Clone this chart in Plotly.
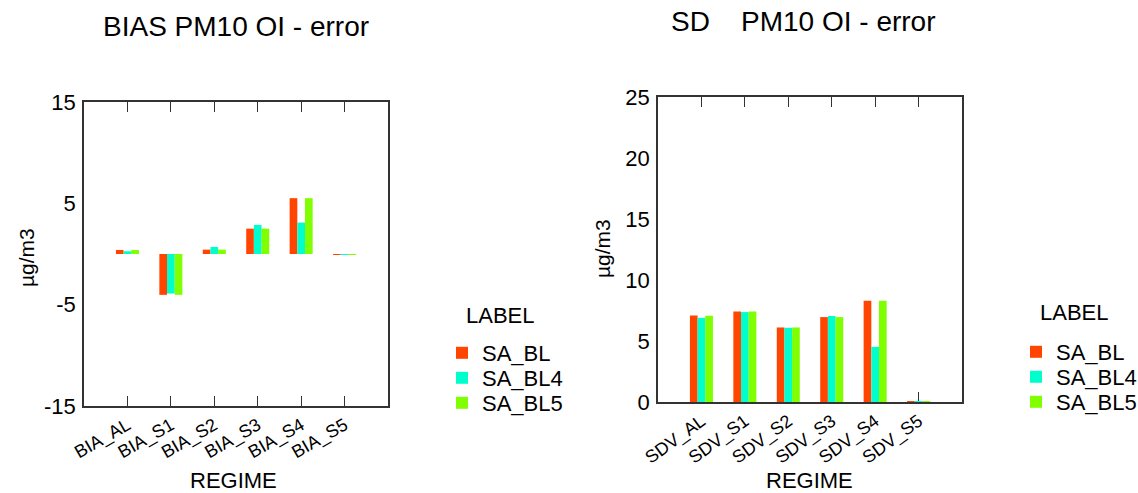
import plotly.graph_objects as go

W, H = 1138, 493

bias_categories = ["BIA_AL", "BIA_S1", "BIA_S2", "BIA_S3", "BIA_S4", "BIA_S5"]
sd_categories = ["SDV_AL", "SDV_S1", "SDV_S2", "SDV_S3", "SDV_S4", "SDV_S5"]
series_names = ["SA_BL", "SA_BL4", "SA_BL5"]
series_colors = ["#FF4500", "#00FFCC", "#7FFF00"]

bias_sa_bl = [0.40, -4.03, 0.43, 2.50, 5.51, -0.06]
bias_sa_bl4 = [0.27, -3.90, 0.69, 2.87, 3.10, -0.09]
bias_sa_bl5 = [0.40, -4.03, 0.43, 2.50, 5.51, -0.09]

sd_sa_bl = [7.10, 7.42, 6.11, 6.96, 8.30, 0.04]
sd_sa_bl4 = [6.90, 7.37, 6.08, 7.04, 4.52, 0.04]
sd_sa_bl5 = [7.07, 7.42, 6.11, 6.96, 8.30, 0.04]

bias_tickvals = [-15, -5, 5, 15]
bias_ticktext = ["-15", "-5", "5", "15"]
sd_tickvals = [0, 5, 10, 15, 20, 25]
sd_ticktext = ["0", "5", "10", "15", "20", "25"]

FONT = "Arial, Liberation Sans, sans-serif"
LINE = "#333333"


def px_x(p):
    return p / W


def px_y(p):
    return 1 - p / H


fig = go.Figure()

bias_values = [bias_sa_bl, bias_sa_bl4, bias_sa_bl5]
sd_values = [sd_sa_bl, sd_sa_bl4, sd_sa_bl5]

for i, (name, col) in enumerate(zip(series_names, series_colors)):
    fig.add_trace(go.Bar(x=bias_categories, y=bias_values[i], name=name,
                         marker=dict(color=col, line=dict(width=0)),
                         xaxis="x", yaxis="y",
                         legend="legend" if i == 0 else f"legend{i + 1}"))
for i, (name, col) in enumerate(zip(series_names, series_colors)):
    fig.add_trace(go.Bar(x=sd_categories, y=sd_values[i], name=name,
                         marker=dict(color=col, line=dict(width=0)),
                         xaxis="x2", yaxis="y2",
                         legend=f"legend{i + 4}"))

xcommon = dict(type="category", range=[-1, 6], showline=True, linecolor=LINE,
               linewidth=1.5, mirror="ticks", ticks="inside", ticklen=10,
               tickwidth=1.2, tickcolor=LINE,
               tickfont=dict(family=FONT, size=18, color="black"),
               ticklabelstandoff=0, showgrid=False, zeroline=False,
               layer="below traces", fixedrange=True, automargin=False)
ycommon = dict(showline=True, linecolor=LINE, linewidth=1.5, mirror=True,
               ticks="", showgrid=False, zeroline=False, automargin=False,
               tickfont=dict(family=FONT, size=22, color="black"),
               ticklabelstandoff=2)
yright = dict(side="right", showline=False, ticks="inside", ticklen=10,
              tickwidth=1.2, tickcolor=LINE, showticklabels=False,
              showgrid=False, zeroline=False, automargin=False)

legend_common = dict(font=dict(family=FONT, size=22, color="black"),
                     bgcolor="rgba(0,0,0,0)", xanchor="left", yanchor="middle",
                     itemwidth=30, tracegroupgap=0)

left_leg_y = [353, 378, 403]
right_leg_y = [352, 377, 402]

layout = dict(
    width=W, height=H, margin=dict(l=0, r=0, t=0, b=0, autoexpand=False),
    paper_bgcolor="white", plot_bgcolor="white",
    barmode="group", bargap=0.47, bargroupgap=0,
    xaxis=dict(domain=[px_x(84), px_x(388)], anchor="y", tickangle=-30, **xcommon),
    yaxis=dict(domain=[px_y(406), px_y(102)], anchor="x", range=[-15, 15],
               tickvals=bias_tickvals, ticktext=bias_ticktext, **ycommon),
    xaxis2=dict(domain=[px_x(658), px_x(962)], anchor="y2", tickangle=-36, **xcommon),
    yaxis2=dict(domain=[px_y(402), px_y(97)], anchor="x2", range=[0, 25],
                tickvals=sd_tickvals, ticktext=sd_ticktext, **ycommon),
    yaxis3=dict(overlaying="y", anchor="x", range=[-15, 15],
                tickvals=bias_tickvals, **yright),
    yaxis4=dict(overlaying="y2", anchor="x2", range=[0, 25],
                tickvals=sd_tickvals, **yright),
    showlegend=True,
)
for i in range(3):
    key = "legend" if i == 0 else f"legend{i + 1}"
    layout[key] = dict(x=px_x(442), y=px_y(left_leg_y[i]), **legend_common)
for i in range(3):
    key = f"legend{i + 4}"
    layout[key] = dict(x=px_x(1016), y=px_y(right_leg_y[i]), **legend_common)

fig.update_layout(**layout)

ann_font = dict(family=FONT, color="black")
annotations = [
    dict(text="BIAS PM10 OI - error", x=px_x(236), y=px_y(27), font=dict(size=28, **ann_font)),
    dict(text="SD\u00a0\u00a0\u00a0\u00a0PM10 OI - error", x=px_x(803), y=px_y(22), font=dict(size=28, **ann_font)),
    dict(text="REGIME", x=px_x(233), y=px_y(480), font=dict(size=22, **ann_font)),
    dict(text="REGIME", x=px_x(809), y=px_y(480), font=dict(size=22, **ann_font)),
    dict(text="µg/m3", x=px_x(26), y=px_y(258), textangle=-90, font=dict(size=21, **ann_font)),
    dict(text="µg/m3", x=px_x(603), y=px_y(249), textangle=-90, font=dict(size=21, **ann_font)),
    dict(text="LABEL", x=px_x(464), y=px_y(315), xanchor="left", font=dict(size=22, **ann_font)),
    dict(text="LABEL", x=px_x(1038), y=px_y(312), xanchor="left", font=dict(size=22, **ann_font)),
]
for a in annotations:
    a.setdefault("xanchor", "center")
    a.update(xref="paper", yref="paper", yanchor="middle", showarrow=False)
    fig.add_annotation(**a)

fig.write_html("out.html")
